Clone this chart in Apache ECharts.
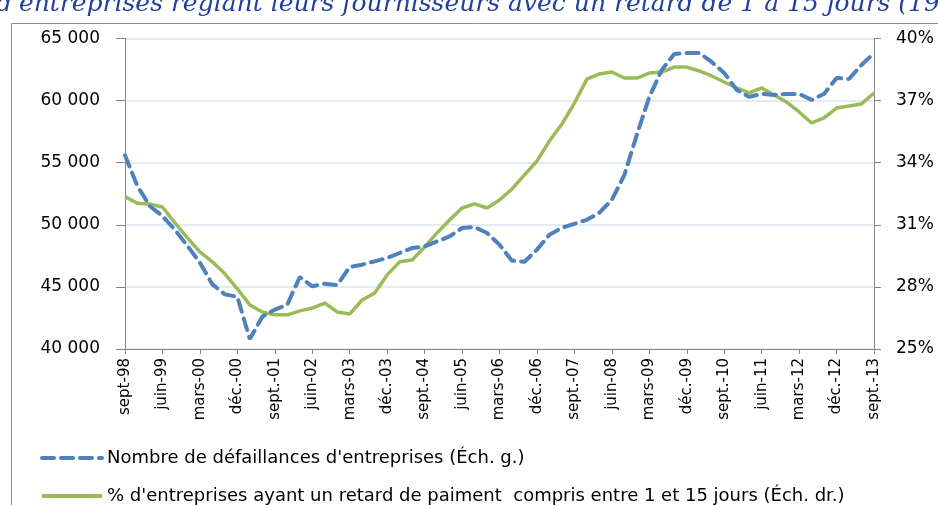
<!DOCTYPE html>
<html>
<head>
<meta charset="utf-8">
<script src="https://cdn.jsdelivr.net/npm/echarts@6/dist/echarts.min.js"></script>
<style>
  html, body { margin: 0; padding: 0; background: #fff; }
  #main { width: 938px; height: 505px; }
</style>
</head>
<body>
<div id="main"></div>
<script>
// trimestres, sept. 1998 -> sept. 2013
var quarters = [
  'sept-98', 'déc.-98', 'mars-99', 'juin-99', 'sept.-99', 'déc.-99', 'mars-00', 'juin-00',
  'sept.-00', 'déc.-00', 'mars-01', 'juin-01', 'sept.-01', 'déc.-01', 'mars-02', 'juin-02',
  'sept.-02', 'déc.-02', 'mars-03', 'juin-03', 'sept.-03', 'déc.-03', 'mars-04', 'juin-04',
  'sept.-04', 'déc.-04', 'mars-05', 'juin-05', 'sept.-05', 'déc.-05', 'mars-06', 'juin-06',
  'sept.-06', 'déc.-06', 'mars-07', 'juin-07', 'sept.-07', 'déc.-07', 'mars-08', 'juin-08',
  'sept.-08', 'déc.-08', 'mars-09', 'juin-09', 'sept.-09', 'déc.-09', 'mars-10', 'juin-10',
  'sept.-10', 'déc.-10', 'mars-11', 'juin-11', 'sept.-11', 'déc.-11', 'mars-12', 'juin-12',
  'sept.-12', 'déc.-12', 'mars-13', 'juin-13', 'sept.-13'
];

// Nombre de défaillances (éch. gauche)
var defaillances = [
  55600, 53100, 51500, 50700, 49600, 48300, 46950, 45200, 44400, 44200,
  40800, 42600, 43170, 43570, 45800, 45040, 45260, 45150, 46600, 46790,
  47060, 47330, 47730, 48130, 48260, 48660, 49060, 49740, 49820, 49340,
  48400, 47110, 47030, 48000, 49200, 49760, 50080, 50400, 50970, 52010,
  54000, 57240, 60300, 62470, 63750, 63830, 63830, 63110, 62230, 60860,
  60300, 60540, 60460, 60540, 60540, 60060, 60540, 61820, 61740, 62870,
  63830
];

// % d'entreprises avec retard de 1 à 15 jours (éch. droite)
var retards = [
  32.36, 32.04, 32.0, 31.86, 31.09, 30.37, 29.69, 29.21, 28.63, 27.91,
  27.13, 26.79, 26.65, 26.65, 26.84, 26.98, 27.22, 26.79, 26.69, 27.37,
  27.71, 28.58, 29.21, 29.30, 29.93, 30.61, 31.23, 31.81, 32.01, 31.81,
  32.2, 32.73, 33.41, 34.08, 35.05, 35.87, 36.88, 38.04, 38.29, 38.38,
  38.09, 38.09, 38.33, 38.38, 38.62, 38.62, 38.43, 38.19, 37.90, 37.61,
  37.37, 37.61, 37.27, 36.93, 36.45, 35.92, 36.16, 36.64, 36.74, 36.84,
  37.37
];

var titleText = "d'entreprises réglant leurs fournisseurs avec un retard de 1 à 15 jours (19";
var nomSerie1 = "Nombre de défaillances d'entreprises (Éch. g.)";
var nomSerie2 = "% d'entreprises ayant un retard de paiment  compris entre 1 et 15 jours (Éch. dr.)";

var bleu = '#4f81bd';
var vert = '#9bbb59';
var legendText = { fontFamily: 'DejaVu Sans', fontSize: 18, color: '#000' };

var chart = echarts.init(document.getElementById('main'));

chart.setOption({
  animation: false,
  backgroundColor: '#fff',
  graphic: [
    {
      type: 'text',
      left: -4, top: -8,
      silent: true,
      style: {
        text: titleText,
        font: 'italic 25px "DejaVu Serif"',
        fill: '#23409a'
      }
    },
    {
      type: 'rect',
      shape: { x: 11.5, y: 23.5, width: 1000, height: 600 },
      style: { fill: 'none', stroke: '#8c8c8c', lineWidth: 1 },
      silent: true,
      z: -1
    }
  ],
  legend: [
    {
      left: 35, top: 444,
      itemWidth: 60, itemHeight: 14, itemGap: 10,
      textStyle: legendText,
      itemStyle: { opacity: 0 },
      lineStyle: { color: bleu, width: 4, type: [12, 7] },
      data: [nomSerie1]
    },
    {
      left: 35, top: 482,
      itemWidth: 60, itemHeight: 14,
      textStyle: legendText,
      itemStyle: { opacity: 0 },
      lineStyle: { color: vert, width: 4 },
      data: [nomSerie2]
    }
  ],
  grid: { left: 125, right: 64, top: 38.5, bottom: 156, containLabel: false },
  xAxis: {
    type: 'category',
    data: quarters,
    boundaryGap: false,
    axisLine: { lineStyle: { color: '#868686', width: 1 } },
    axisTick: { interval: 2, length: 5, lineStyle: { color: '#868686' } },
    axisLabel: {
      interval: 2,
      rotate: 90,
      margin: 9,
      fontFamily: 'DejaVu Sans',
      fontSize: 15,
      color: '#000'
    },
    splitLine: { show: false }
  },
  yAxis: [
    {
      type: 'value',
      min: 40000, max: 65000, interval: 5000,
      axisLine: { show: true, lineStyle: { color: '#868686' } },
      axisTick: { show: true, length: 9, lineStyle: { color: '#868686' } },
      axisLabel: {
        margin: 25,
        fontFamily: 'DejaVu Sans',
        fontSize: 17,
        color: '#000',
        formatter: function (v) {
          return String(v).replace(/(\d)(?=(\d{3})+$)/g, '$1 ');
        }
      },
      splitLine: { show: true, lineStyle: { color: '#dbe4f1', width: 1.5 } }
    },
    {
      type: 'value',
      min: 25, max: 40, interval: 3,
      position: 'right',
      axisLine: { show: true, lineStyle: { color: '#868686' } },
      axisTick: { show: true, length: 7, lineStyle: { color: '#868686' } },
      axisLabel: {
        margin: 22,
        fontFamily: 'DejaVu Sans',
        fontSize: 17,
        color: '#000',
        formatter: '{value}%'
      },
      splitLine: { show: false }
    }
  ],
  series: [
    {
      name: nomSerie1,
      type: 'line',
      yAxisIndex: 0,
      data: defaillances,
      symbol: 'none',
      lineStyle: { color: bleu, width: 4, type: [12, 7], cap: 'round' },
      itemStyle: { color: bleu },
      z: 3
    },
    {
      name: nomSerie2,
      type: 'line',
      yAxisIndex: 1,
      data: retards,
      symbol: 'none',
      lineStyle: { color: vert, width: 3.5 },
      itemStyle: { color: vert },
      z: 2
    }
  ]
});
</script>
</body>
</html>
